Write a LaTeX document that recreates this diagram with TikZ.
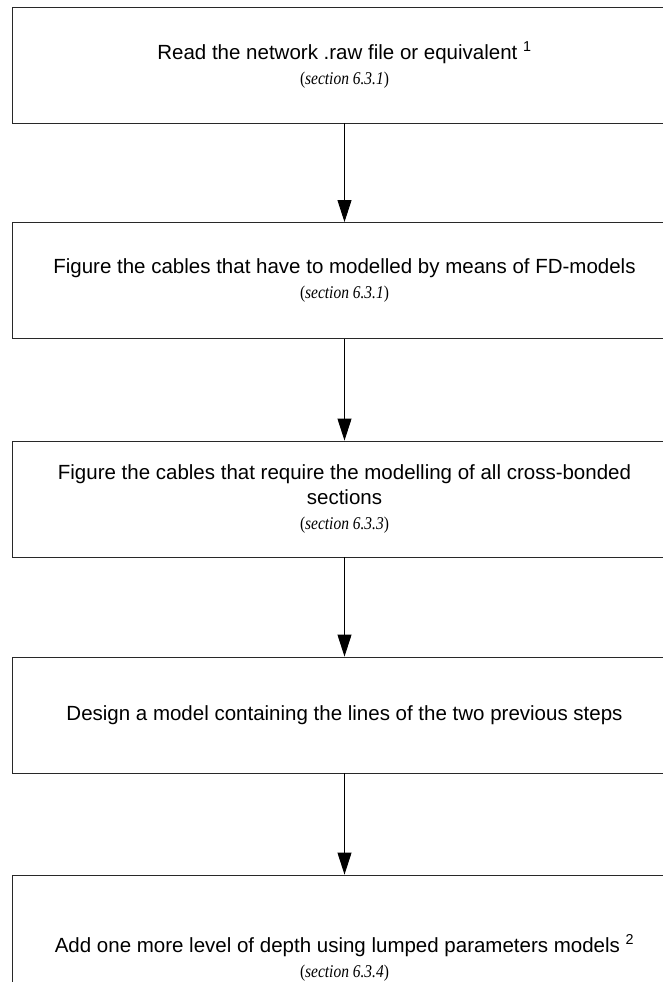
\documentclass[tikz,border=0pt]{standalone}
\usepackage{fontspec}
\usepackage{graphicx}
\setmainfont{Liberation Sans}
\newfontfamily\flowserif{Liberation Serif}
\usetikzlibrary{arrows.meta}

\definecolor{flowline}{RGB}{40,40,40}

\newcommand{\secref}[1]{\scalebox{0.86}[1]{\flowserif\fontsize{18}{25}\selectfont(\textit{section #1})}}

\begin{document}
\begin{tikzpicture}[x=1pt,y=-1pt,>={Triangle[length=22pt,width=14pt]},
    stepbox/.style={draw=flowline,line width=0.9pt,minimum width=664pt,
      minimum height=116pt,align=center,inner sep=0pt,
      font=\fontsize{20.5}{25}\selectfont},
    flow/.style={->,line width=0.9pt,black}]
    \clip (0,0) rectangle (663,982);
    \node[stepbox] (read) at (344.5,65)
      {Read the network .raw file or equivalent \textsuperscript{1}\\\secref{6.3.1}};
    \node[stepbox] (fdcables) at (344.5,280.5)
      {Figure the cables that have to modelled by means of FD-models\\\secref{6.3.1}};
    \node[stepbox] (crossbond) at (344.5,499)
      {Figure the cables that require the modelling of all cross-bonded\\sections\\\secref{6.3.3}};
    \node[stepbox] (design) at (344.5,715)
      {Design a model containing the lines of the two previous steps};
    \node[stepbox,minimum height=166pt] (lumped) at (344.5,958)
      {Add one more level of depth using lumped parameters models \textsuperscript{2}\\\secref{6.3.4}};
    \draw[flow] (read) -- (fdcables);
    \draw[flow] (fdcables) -- (crossbond);
    \draw[flow] (crossbond) -- (design);
    \draw[flow] (design) -- (lumped);
\end{tikzpicture}
\end{document}
